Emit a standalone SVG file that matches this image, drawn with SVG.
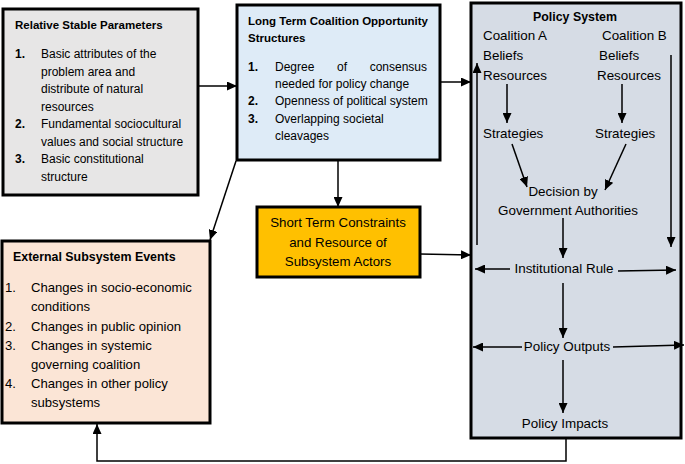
<svg xmlns="http://www.w3.org/2000/svg" width="685" height="464" viewBox="0 0 685 464">
<style>
.box{stroke:#000;stroke-width:3}
text{font-family:"Liberation Sans",Arial,sans-serif;fill:#000}
.t12{font-size:12px}
.t13{font-size:13.4px}
.b{font-weight:bold}
.c{text-anchor:middle}
.conn path{fill:none;stroke:#000;stroke-width:1.5;marker-end:url(#ah)}
</style>
<defs>
<marker id="ah" markerUnits="userSpaceOnUse" markerWidth="10" markerHeight="9" refX="10" refY="4.5" orient="auto">
<path d="M0,0 L10,4.5 L0,9 z" fill="#000"/>
</marker>
</defs>
<rect width="685" height="464" fill="#fff"/>

<g id="relative-stable-parameters">
<rect class="box" x="3" y="9" width="195" height="186" fill="#e7e6e6"/>
<text class="b" x="15" y="29" font-size="11.5">Relative Stable Parameters</text>
<g class="t12">
<text class="b" x="15" y="58">1.</text>
<text x="41" y="58">Basic attributes of the</text>
<text x="41" y="75.5">problem area and</text>
<text x="41" y="93">distribute of natural</text>
<text x="41" y="110.5">resources</text>
<text class="b" x="15" y="128">2.</text>
<text x="41" y="128">Fundamental sociocultural</text>
<text x="41" y="145.5">values and social structure</text>
<text class="b" x="15" y="163">3.</text>
<text x="41" y="163">Basic constitutional</text>
<text x="41" y="180.5">structure</text>
</g>
</g>

<g id="long-term-structures">
<rect class="box" x="237" y="5" width="203" height="155" fill="#deebf7"/>
<text class="b" x="248" y="25" font-size="11.5">Long Term Coalition Opportunity</text>
<text class="b" x="248" y="42" font-size="11.5">Structures</text>
<g class="t12">
<text class="b" x="248" y="71">1.</text>
<text x="275" y="71">Degree</text>
<text x="337" y="71">of</text>
<text x="427" y="71" text-anchor="end">consensus</text>
<text x="275" y="88">needed for policy change</text>
<text class="b" x="248" y="105">2.</text>
<text x="275" y="105">Openness of political system</text>
<text class="b" x="248" y="123">3.</text>
<text x="275" y="123">Overlapping societal</text>
<text x="275" y="140">cleavages</text>
</g>
</g>

<g id="short-term-constraints">
<rect class="box" x="257" y="207" width="163" height="70" fill="#ffc000"/>
<g font-size="13.3">
<text class="c" x="338" y="227">Short Term Constraints</text>
<text class="c" x="338" y="247">and Resource of</text>
<text class="c" x="338" y="266">Subsystem Actors</text>
</g>
</g>

<g id="external-subsystem-events">
<rect class="box" x="2" y="241" width="208" height="182" fill="#fbe5d6"/>
<text class="b" x="13" y="261" font-size="12.4">External Subsystem Events</text>
<g font-size="13.1">
<text x="5" y="292">1.</text>
<text x="31" y="292">Changes in socio-economic</text>
<text x="31" y="311">conditions</text>
<text x="5" y="331">2.</text>
<text x="31" y="331">Changes in public opinion</text>
<text x="5" y="350">3.</text>
<text x="31" y="350">Changes in systemic</text>
<text x="31" y="369">governing coalition</text>
<text x="5" y="388">4.</text>
<text x="31" y="388">Changes in other policy</text>
<text x="31" y="407">subsystems</text>
</g>
</g>

<g id="policy-system">
<rect class="box" x="471" y="3" width="210" height="435" fill="#d6dce5"/>
<text class="b c" x="575" y="21" font-size="12.4">Policy System</text>
<g class="t13">
<text x="483" y="40">Coalition A</text>
<text x="602" y="40">Coalition B</text>
<text x="483" y="60">Beliefs</text>
<text x="599" y="60">Beliefs</text>
<text x="483" y="80">Resources</text>
<text x="597" y="80">Resources</text>
<text x="483" y="138">Strategies</text>
<text x="595" y="138">Strategies</text>
<text class="c" x="563" y="196">Decision by</text>
<text class="c" x="568" y="215">Government Authorities</text>
<text class="c" x="564" y="273">Institutional Rule</text>
<text class="c" x="567" y="351">Policy Outputs</text>
<text class="c" x="565" y="428">Policy Impacts</text>
</g>
</g>

<g id="connectors" class="conn">
<path d="M198,86 H237"/>
<path d="M440,82 H471"/>
<path d="M338,160 V207"/>
<path d="M236,161 L210,240"/>
<path d="M420,254 L471,255"/>
<path d="M566,438 V461 H97 V424"/>
<path d="M507,84 V123"/>
<path d="M622,84 V123"/>
<path d="M512,144 L527,187"/>
<path d="M626,144 L605,190"/>
<path d="M477,245 V63"/>
<path d="M671,55 V247"/>
<path d="M563,218 V258"/>
<path d="M510,269 H475"/>
<path d="M618,271 L676,270"/>
<path d="M563,283 V338"/>
<path d="M522,347 H473"/>
<path d="M613,347 L684,345"/>
<path d="M563,360 V413"/>
</g>
</svg>
